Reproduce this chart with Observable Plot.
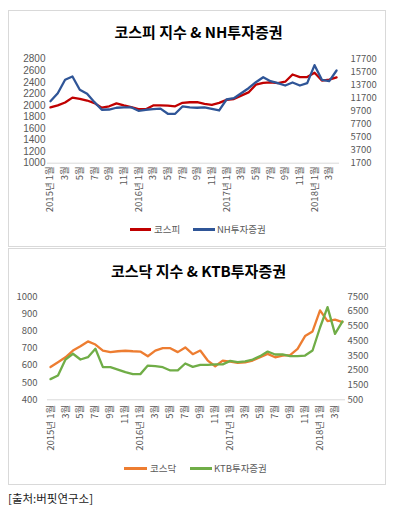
<!DOCTYPE html>
<html><head><meta charset="utf-8">
<script src="https://cdn.jsdelivr.net/npm/d3@7"></script>
<script src="https://cdn.jsdelivr.net/npm/@observablehq/plot@0.6"></script>
<style>
body{margin:0;background:#fff;font-family:"Noto Sans CJK KR","Noto Sans",sans-serif;}
#wrap{position:relative;width:397px;height:509px;overflow:hidden;background:#fff;}
.box{position:absolute;left:8px;width:378px;border:1px solid #d9d9d9;box-sizing:border-box;}
.title{position:absolute;left:0;width:397px;text-align:center;font-weight:bold;font-size:15px;line-height:20px;color:#000;}
.plot{position:absolute;left:0;}
.sw{position:absolute;height:2.5px;}
.lt{position:absolute;font-size:9.5px;line-height:12px;color:#595959;white-space:nowrap;}
.cap{position:absolute;left:8px;top:490px;font-size:11.5px;line-height:16px;color:#222;}
#p1 svg g[aria-label="y-axis tick label"]:first-of-type text{letter-spacing:0.9px;}
</style></head>
<body><div id="wrap">
<div class="box" style="top:10px;height:237px"></div>
<div class="box" style="top:248px;height:237px"></div>
<div class="title" style="top:22px">코스피 지수 &amp; NH투자증권</div>
<div class="title" style="top:261px">코스닥 지수 &amp; KTB투자증권</div>
<div id="p1" class="plot" style="top:40px"></div>
<div id="p2" class="plot" style="top:280px"></div>
<div class="sw" style="left:130px;top:228px;width:21px;background:#C00000"></div>
<div class="lt" style="left:154px;top:223px">코스피</div>
<div class="sw" style="left:193px;top:228px;width:22px;background:#2F5597"></div>
<div class="lt" style="left:217px;top:223px">NH투자증권</div>
<div class="sw" style="left:124px;top:467px;width:23px;background:#ED7D31"></div>
<div class="lt" style="left:150px;top:462px">코스닥</div>
<div class="sw" style="left:190px;top:467px;width:22px;background:#70AD47"></div>
<div class="lt" style="left:214px;top:462px">KTB투자증권</div>
<div class="cap">[출처:버핏연구소]</div>
</div>
<script>
// Monthly series, 2015-01 .. 2018-04 (40 months)
const startYear = 2015;
const kospi = [1965, 2000, 2050, 2135, 2115, 2085, 2040, 1960, 1985, 2035, 2000, 1970,
  1935, 1935, 2000, 2000, 1995, 1985, 2045, 2055, 2055, 2025, 2010, 2045,
  2095, 2110, 2170, 2225, 2360, 2390, 2400, 2385, 2410, 2535, 2490, 2490,
  2565, 2430, 2445, 2485];
const nh = [11240, 12470, 14530, 15040, 12990, 12380, 11090, 9920, 9960, 10230, 10300, 10300,
  9760, 9920, 10010, 10100, 9300, 9300, 10430, 10300, 10230, 10300, 10070, 9810,
  11500, 11700, 12470, 13240, 14160, 14930, 14320, 14010, 13650, 14120, 13650, 14010,
  16780, 14530, 14320, 15960];
const kosdaq = [590, 618, 647, 686, 711, 739, 721, 686, 677, 682, 685, 682,
  680, 653, 686, 700, 700, 677, 704, 665, 686, 628, 595, 628,
  622, 615, 618, 628, 647, 667, 647, 657, 660, 696, 770, 797,
  919, 857, 866, 851];
const ktb = [1900, 2150, 3230, 3620, 3230, 3390, 3960, 2710, 2710, 2550, 2370, 2240,
  2240, 2820, 2780, 2710, 2490, 2490, 2960, 2730, 2870, 2870, 2900, 2900,
  3140, 3050, 3100, 3230, 3460, 3770, 3570, 3570, 3460, 3460, 3500, 3840,
  5400, 6780, 4970, 5810];
const leftTicks1 = [1000, 1200, 1400, 1600, 1800, 2000, 2200, 2400, 2600, 2800];
const rightTicks1 = [1700, 3700, 5700, 7700, 9700, 11700, 13700, 15700, 17700];
const leftTicks2 = [400, 500, 600, 700, 800, 900, 1000];
const rightTicks2 = [500, 1500, 2500, 3500, 4500, 5500, 6500, 7500];
const xTicks = d3.range(0, 40, 2);

const xLabel = i => {
  const y = startYear + Math.floor(i / 12), m = i % 12 + 1;
  return m === 1 ? `${y}년 ${m}월` : `${m}월`;
};
const font = '"Noto Sans CJK KR","Noto Sans",sans-serif';

function dual(opts) {
  const {left, right, ticksL, ticksR, cL, cR} = opts;
  const [l0, l1] = [ticksL[0], ticksL[ticksL.length - 1]];
  const [r0, r1] = [ticksR[0], ticksR[ticksR.length - 1]];
  const toL = v => l0 + (v - r0) * (l1 - l0) / (r1 - r0);
  const toR = d => String(Math.round(r0 + (d - l0) * (r1 - r0) / (l1 - l0)));
  return Plot.plot({
    width: 397, height: opts.height,
    marginTop: opts.mt, marginBottom: opts.mb, marginLeft: opts.ml, marginRight: opts.mr,
    x: {domain: [-0.4, 39.4]},
    y: {domain: [l0, l1]},
    style: {fontFamily: font, fontSize: "9.5px", color: "#595959", background: "transparent", overflow: "visible"},
    marks: [
      Plot.ruleY([l0], {stroke: "#d9d9d9", strokeWidth: 1}),
      Plot.axisY(ticksL, {anchor: "left", tickSize: 0, tickPadding: opts.padL, label: null,
        fontSize: opts.fontL, fontFamily: opts.famL || font, tickFormat: d => String(d)}),
      Plot.axisY(ticksR.map(toL), {anchor: "right", tickSize: 0, tickPadding: opts.padR, label: null, tickFormat: toR}),
      Plot.axisX(xTicks, {anchor: "bottom", tickSize: 0, tickPadding: opts.padX, tickRotate: -90, tickFormat: xLabel, label: null}),
      Plot.lineY(left, {x: (d, i) => i, y: d => d, stroke: cL, strokeWidth: 2.3}),
      Plot.lineY(right, {x: (d, i) => i, y: d => toL(d), stroke: cR, strokeWidth: 2.3})
    ]
  });
}

document.getElementById("p1").appendChild(dual({
  left: kospi, right: nh, ticksL: leftTicks1, ticksR: rightTicks1,
  cL: "#C00000", cR: "#2F5597", fontL: "10px", famL: '"Liberation Sans",sans-serif',
  height: 190, mt: 18.7, mb: 67.3, ml: 47, mr: 58, padL: 2, padR: 11, padX: 3
}));
document.getElementById("p2").appendChild(dual({
  left: kosdaq, right: ktb, ticksL: leftTicks2, ticksR: rightTicks2,
  cL: "#ED7D31", cR: "#70AD47", fontL: "9.5px",
  height: 200, mt: 16, mb: 80.7, ml: 47, mr: 52, padL: 10, padR: 2, padX: 5
}));
</script>
</body></html>
